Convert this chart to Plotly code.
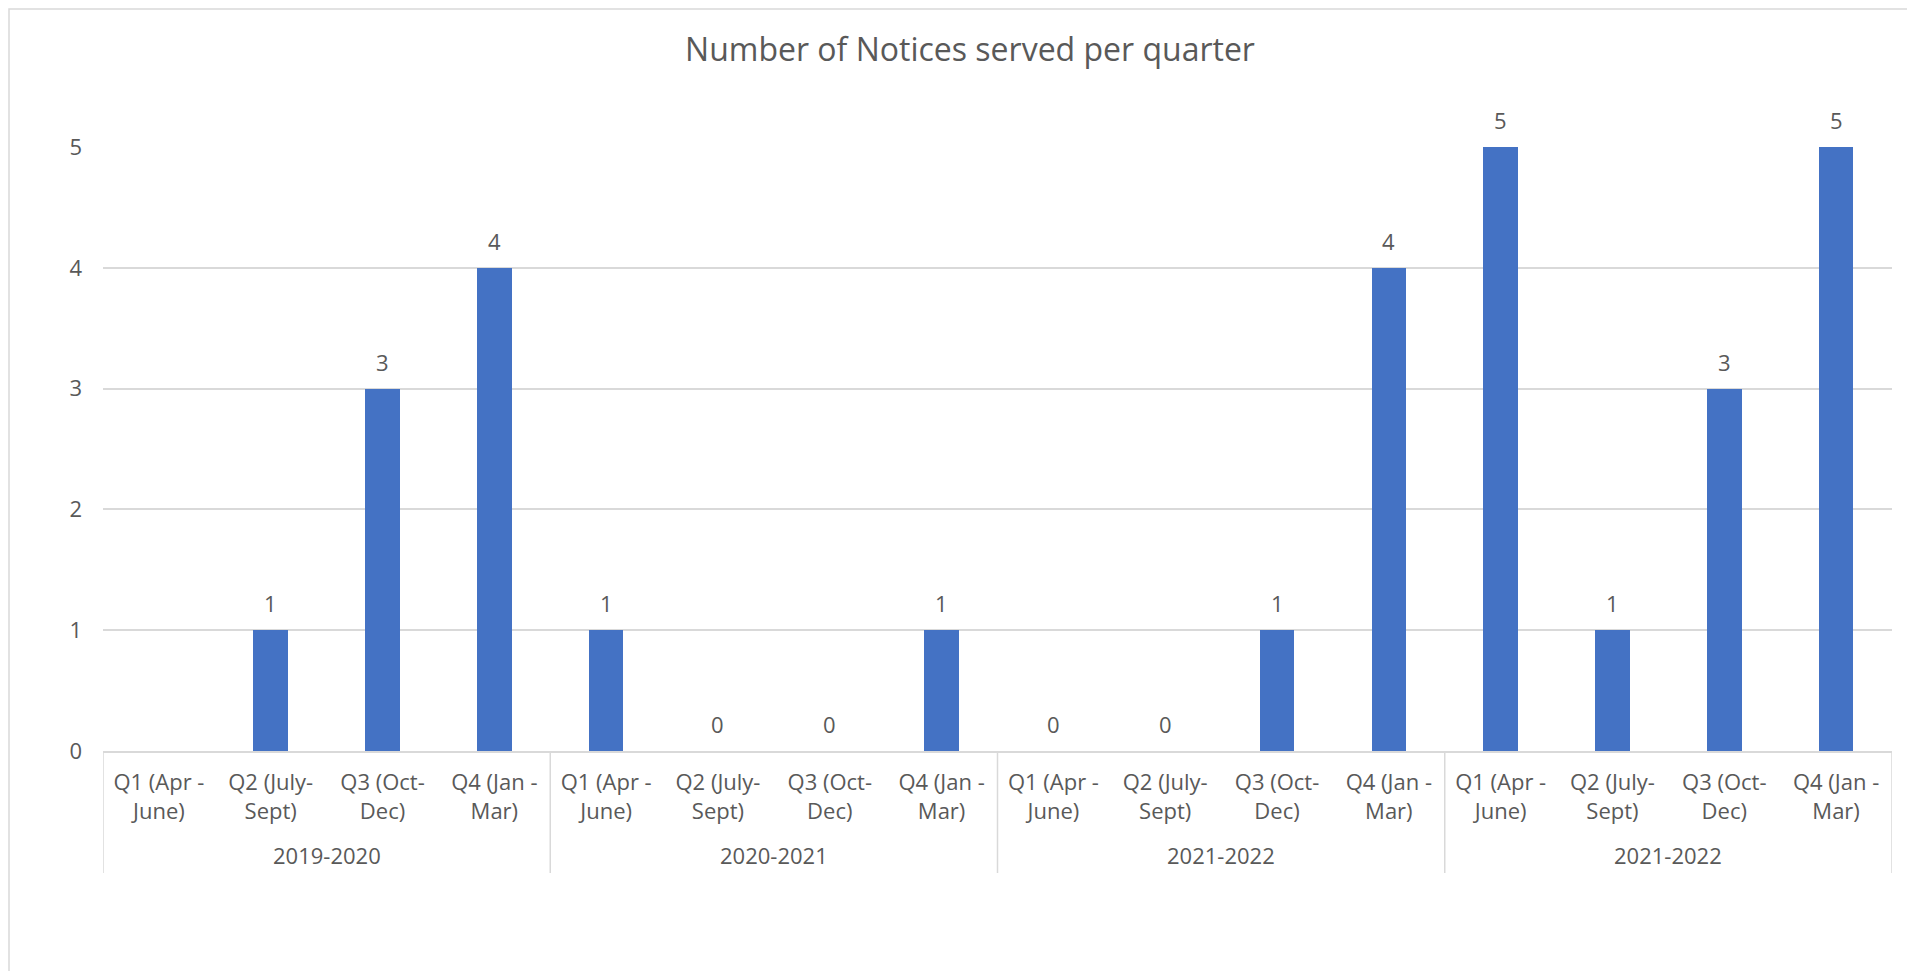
import plotly.graph_objects as go

# ---- data ----
years = ["2019-2020", "2020-2021", "2021-2022", "2021-2022"]
quarters = ["Q1 (Apr -<br>June)", "Q2 (July-<br>Sept)", "Q3 (Oct-<br>Dec)", "Q4 (Jan -<br>Mar)"]
values_2019_2020 = [None, 1, 3, 4]
values_2020_2021 = [1, 0, 0, 1]
values_2021_2022 = [0, 0, 1, 4]
values_2021_2022b = [5, 1, 3, 5]
y_ticks = [0, 1, 2, 3, 4, 5]
title_text = "Number of Notices served per quarter"

groups = [values_2019_2020, values_2020_2021, values_2021_2022, values_2021_2022b]
values = [v for g in groups for v in g]
labels = [q for _ in groups for q in quarters]
xs = list(range(len(values)))

TXT = "#595959"
GRID = "#D9D9D9"
FONT = "Open Sans"

W, H = 1915, 971
ML, MR, MT, MB = 95, 31, 139, 228
PW = W - ML - MR
PH = H - MT - MB

fig = go.Figure()
fig.add_trace(go.Bar(x=xs, y=values, width=0.31, marker=dict(color="#4472C4", line=dict(width=0)),
                     hoverinfo="x+y"))

annotations = []
for x, v in zip(xs, values):
    if v is None:
        continue
    annotations.append(dict(x=x, y=v, xref="x", yref="y", text=str(v), showarrow=False,
                            yanchor="middle", yshift=27, font=dict(family=FONT, size=22, color=TXT)))

shapes = []
n_per = len(quarters)
for gi, yr in enumerate(years):
    center = gi * n_per + (n_per - 1) / 2
    annotations.append(dict(x=center, y=0, xref="x", yref="y", text=yr, showarrow=False,
                            yanchor="middle", yshift=-104, font=dict(family=FONT, size=22, color=TXT)))
for b in range(len(years) + 1):
    xb = b * n_per - 0.5
    shapes.append(dict(type="line", xref="x", yref="paper", x0=xb, x1=xb,
                       y0=0, y1=-122 / PH, line=dict(color=GRID, width=1.5)))

# chart border
shapes.append(dict(type="rect", xref="paper", yref="paper", x0=-(ML - 1) / PW, x1=1.2, y0=-1.0,
                   y1=1 + (MT - 1) / PH,
                   line=dict(color=GRID, width=1.5), fillcolor="rgba(0,0,0,0)", layer="below"))

fig.update_layout(
    width=W, height=H,
    margin=dict(l=ML, r=MR, t=MT, b=MB),
    paper_bgcolor="white", plot_bgcolor="white",
    title=dict(text=title_text, x=962 / W, xref="container", xanchor="center",
               y=1 - 42 / H, yref="container", yanchor="middle",
               font=dict(family=FONT, size=32, color=TXT)),
    showlegend=False,
    bargap=0,
    annotations=annotations,
    shapes=shapes,
    font=dict(family=FONT, color=TXT),
)
fig.update_xaxes(range=[-0.5, len(values) - 0.5], tickmode="array", tickvals=xs, ticktext=labels,
                 showgrid=False, zeroline=False, showline=True, linecolor=GRID, linewidth=1.5,
                 ticks="", ticklabelstandoff=11, tickfont=dict(family=FONT, size=22, color=TXT), fixedrange=True)
fig.update_yaxes(range=[0, 5], tickmode="array", tickvals=y_ticks, showgrid=True, gridcolor=GRID, gridwidth=1.5,
                 zeroline=False, showline=False, ticks="", ticklabelstandoff=20,
                 tickfont=dict(family=FONT, size=22, color=TXT), fixedrange=True)

fig.write_html("out.html")
